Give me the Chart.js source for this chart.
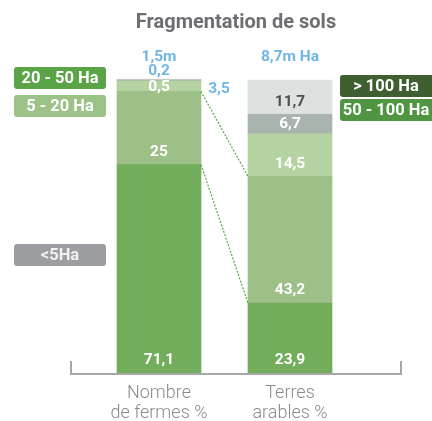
<!DOCTYPE html>
<html>
<head>
<meta charset="utf-8">
<script src="https://cdn.jsdelivr.net/npm/chart.js@4"></script>
<style>
  html, body { margin: 0; padding: 0; background: #fff; }
  #wrap { width: 432px; height: 421px; }
</style>
</head>
<body>
<div id="wrap"><canvas id="fragChart"></canvas></div>
<script>
// Fragmentation de sols - répartition par taille d'exploitation

const categories = [['Nombre', 'de fermes %'], ['Terres', 'arables %']];
const totals = ['1,5m', '8,7m Ha'];
const sizeClasses = ['<5Ha', '5 - 20 Ha', '20 - 50 Ha', '50 - 100 Ha', '> 100 Ha'];

const lt5 = [71.1, 23.9];
const s5to20 = [25, 43.2];
const s20to50 = [3.5, 14.5];
const s50to100 = [0.5, 6.7];
const gt100 = [0.2, 11.7];

const seriesValues = [lt5, s5to20, s20to50, s50to100, gt100];
const barColors = ['#72ad5b', '#9cc087', '#b5d2a3', '#a9b4ae', '#dde1df'];
const blue = '#6db6e6';

function fmt(v) {
    return String(v).replace('.', ',');
}

function toPoints(values) {
    return values.map((v, i) => ({ x: i + 1, y: v }));
}

// labels, connecteurs, axe et légendes
const annotate = {
    id: 'annotate',
    afterDatasetsDraw(chart) {
        const ctx = chart.ctx;
        const metas = chart.data.datasets.map((d, i) => chart.getDatasetMeta(i));
        ctx.save();

        // lignes pointillées entre les barres
        ctx.strokeStyle = '#5aa447';
        ctx.lineWidth = 1.2;
        ctx.setLineDash([2, 1.5]);
        [0, 1].forEach(k => {
            const a = metas[k].data[0];
            const b = metas[k].data[1];
            ctx.beginPath();
            ctx.moveTo(a.x + a.width / 2, a.y);
            ctx.lineTo(b.x - b.width / 2, b.y);
            ctx.stroke();
        });
        ctx.setLineDash([]);

        // valeurs dans les segments
        ctx.font = 'bold 15.5px Roboto, sans-serif';
        ctx.textAlign = 'center';
        ctx.textBaseline = 'middle';
        metas.forEach((m, i) => m.data.forEach((bar, j) => {
            const h = bar.base - bar.y;
            if (h < 15) return;
            const y = Math.max((bar.y + bar.base) / 2, bar.base - 12.5);
            ctx.fillStyle = i === 4 ? '#4e4e50' : '#fff';
            ctx.fillText(fmt(seriesValues[i][j]), bar.x, y);
        }));

        // petites valeurs de la première barre
        const p = metas[2].data[0];
        ctx.fillStyle = '#fff';
        ctx.fillText(fmt(s50to100[0]), p.x, (p.y + p.base) / 2 + 1);
        ctx.fillStyle = blue;
        ctx.fillText(fmt(s20to50[0]), p.x + p.width / 2 + 18, p.base - 2);
        const top0 = metas[4].data[0];
        ctx.fillText(fmt(gt100[0]), top0.x, top0.y - 8);

        // totaux
        metas[4].data.forEach((bar, j) => {
            ctx.fillText(totals[j], bar.x, chart.chartArea.top - 23);
        });

        // axe
        const { left, right, bottom } = chart.chartArea;
        ctx.strokeStyle = '#a8a8ab';
        ctx.lineWidth = 2;
        ctx.beginPath();
        ctx.moveTo(left + 1, bottom - 12);
        ctx.lineTo(left + 1, bottom + 1);
        ctx.lineTo(right - 1, bottom + 1);
        ctx.lineTo(right - 1, bottom - 12);
        ctx.stroke();

        // légendes
        const boxes = [
            { k: 2, x: 14, y: 67, w: 92, color: '#5aa447', text: '#fff' },
            { k: 1, x: 14, y: 95, w: 92, color: '#9dc288', text: '#fff' },
            { k: 0, x: 14, y: 244, w: 92, color: '#9d9ea1', text: '#f2f2f2' },
            { k: 4, x: 340, y: 75, w: 94, color: '#3f5f30', text: '#fff' },
            { k: 3, x: 340, y: 99, w: 94, color: '#4f9542', text: '#fff' }
        ];
        ctx.font = 'bold 16.5px Roboto, sans-serif';
        boxes.forEach(b => {
            ctx.fillStyle = b.color;
            ctx.beginPath();
            ctx.roundRect(b.x, b.y, b.w, 22, 3);
            ctx.fill();
            ctx.fillStyle = b.text;
            ctx.fillText(sizeClasses[b.k], b.x + 46, b.y + 11.5);
        });

        ctx.restore();
    }
};

new Chart(document.getElementById('fragChart'), {
    type: 'bar',
    data: {
        datasets: seriesValues.map((vals, i) => ({
            label: sizeClasses[i],
            data: toPoints(vals),
            backgroundColor: barColors[i],
            borderWidth: 0,
            barThickness: 84,
            grouped: false,
            clip: false
        }))
    },
    options: {
        responsive: true,
        maintainAspectRatio: false,
        animation: false,
        layout: {
            padding: { left: 70, right: 30, top: 0, bottom: -12 }
        },
        plugins: {
            legend: { display: false },
            tooltip: { enabled: false },
            title: {
                display: true,
                text: 'Fragmentation de sols',
                color: '#6d6e71',
                font: { family: 'Roboto, sans-serif', size: 20, weight: 'bold' },
                padding: { top: 11, bottom: 45 }
            }
        },
        scales: {
            x: {
                type: 'linear',
                offset: false,
                min: 0.3206,
                max: 2.855,
                afterBuildTicks: scale => {
                    scale.ticks = categories.map((c, i) => ({ value: i + 1 }));
                },
                grid: { display: false, drawTicks: false, offset: false },
                border: { display: false },
                ticks: {
                    padding: 10,
                    color: '#8b8b8e',
                    font: { family: 'Roboto, sans-serif', size: 18, weight: 300, lineHeight: 1.11 },
                    callback: value => categories[value - 1]
                }
            },
            y: {
                display: false,
                stacked: true,
                min: 0,
                max: 100
            }
        }
    },
    plugins: [annotate]
});
</script>
</body>
</html>
